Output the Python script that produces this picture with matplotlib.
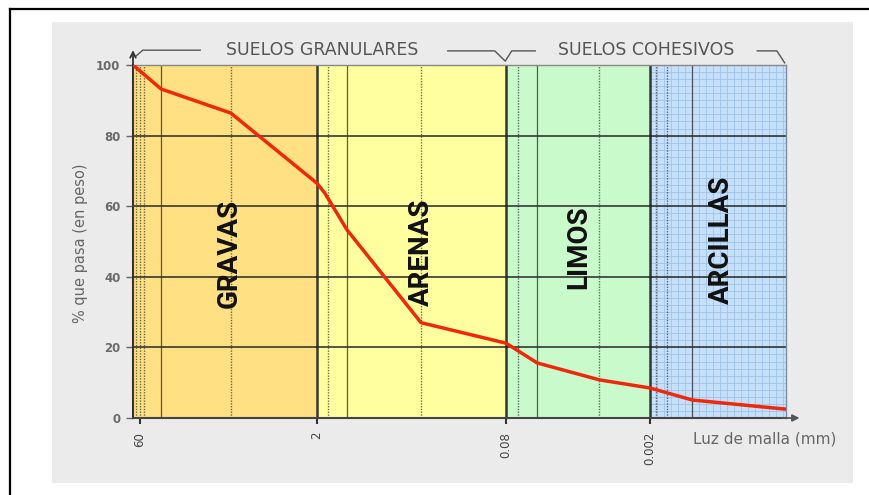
import numpy as np
import matplotlib
matplotlib.use("Agg")
import matplotlib.pyplot as plt
from matplotlib.patches import Rectangle
from matplotlib.lines import Line2D

# ------------------------------
# DATA
# ------------------------------
SIZES_MM = [68, 40, 10.5, 2, 1.75, 1.2, 0.34, 0.08, 0.036, 0.0073, 0.002, 0.00068, 0.000062]
PASSING = [100, 93.2, 86.4, 66.5, 63.7, 53.3, 27.0, 21.2, 15.6, 10.8, 8.5, 5.1, 2.5]

CLASS_LIMITS_MM = [68, 2, 0.08, 0.002, 0.000062]
CLASS_NAMES = ["GRAVAS", "ARENAS", "LIMOS", "ARCILLAS"]
CLASS_COLORS = ["#FFE082", "#FFFF9F", "#C9FACB", "#C6E0FA"]

TICKS_MM = [60, 2, 0.08, 0.002]
TICK_LABELS = ["60", "2", "0.08", "0.002"]
Y_TICKS = [0, 20, 40, 60, 80, 100]

SOLID_LINES_MM = [40, 1.2, 0.036, 0.00068]
DOTTED_LINES_MM = [64, 60, 56, 10.5, 1.65, 0.34, 0.059, 0.0073, 0.0017, 0.0013]

# ------------------------------
# LAYOUT
# ------------------------------
W, H = 869, 495
# the schematic x axis is log-like, but each class has its own stretch
ANCHOR_MM = np.array([68, 60, 2, 0.08, 0.002, 0.000062])
ANCHOR_POS = np.array([0, 7, 184, 373, 517, 653])
LABEL_POS = [(10.7, 46.7), (0.34, 47.0), (0.0124, 48.4), (0.00032, 50.4)]


def fwd(x):
    x = np.clip(np.asarray(x, dtype=float), 1e-12, None)
    return np.interp(-np.log10(x), -np.log10(ANCHOR_MM), ANCHOR_POS)


def inv(p):
    return 10 ** (-np.interp(np.asarray(p, dtype=float), ANCHOR_POS, -np.log10(ANCHOR_MM)))


def main():
    fig = plt.figure(figsize=(W / 100, H / 100), dpi=100)
    fig.patch.set_facecolor("white")

    # gray panel + outer frame
    fig.patches.append(Rectangle((52 / W, 12 / H), 801 / W, 461 / H, transform=fig.transFigure,
                                 facecolor="#ebebeb", edgecolor="none", zorder=-10))
    fig.add_artist(Line2D([10 / W, 1], [1 - 9 / H, 1 - 9 / H], transform=fig.transFigure, color="black", lw=1.6))
    fig.add_artist(Line2D([10 / W, 10 / W], [0, 1 - 9 / H], transform=fig.transFigure, color="black", lw=1.6))

    ax = fig.add_axes([133 / W, 1 - 418 / H, 653 / W, 353 / H])
    ax.set_xscale("function", functions=(fwd, inv))
    # coarse sizes on the left
    ax.set_xlim(CLASS_LIMITS_MM[-1], CLASS_LIMITS_MM[0])
    ax.set_ylim(0, 100)

    # class bands
    for i, col in enumerate(CLASS_COLORS):
        ax.axvspan(CLASS_LIMITS_MM[i], CLASS_LIMITS_MM[i + 1], color=col, zorder=0, lw=0)

    # fine grid in the clay band
    p0, p1 = fwd(CLASS_LIMITS_MM[3]), fwd(CLASS_LIMITS_MM[4])
    fine_x = inv(np.arange(p0 + 7, p1, 7))
    ax.vlines(fine_x, 0, 100, color="#9DC3EE", lw=0.6, zorder=1)
    ax.hlines(np.arange(2, 100, 2), CLASS_LIMITS_MM[3], CLASS_LIMITS_MM[4], color="#9DC3EE", lw=0.6, zorder=1)

    # main grid
    ax.hlines([20, 40, 60, 80], CLASS_LIMITS_MM[0], CLASS_LIMITS_MM[-1], color="#2a2a2a", lw=1.4, alpha=0.8, zorder=2)
    ax.vlines(DOTTED_LINES_MM, 0, 100, color="#333333", lw=1.0, linestyles=(0, (1, 1)), alpha=0.7, zorder=2)
    ax.vlines(SOLID_LINES_MM, 0, 100, color="#333333", lw=0.9, alpha=0.8, zorder=2)
    ax.vlines(CLASS_LIMITS_MM[1:4], 0, 100, color="#222222", lw=1.8, alpha=0.9, zorder=2)

    # grading curve
    ax.plot(SIZES_MM, PASSING, color="#F0280A", lw=2.5, zorder=5, solid_capstyle="round")

    # class names
    for name, (xm, yp) in zip(CLASS_NAMES, LABEL_POS):
        ax.text(xm, yp, name, rotation=90, ha="center", va="center", fontsize=20, fontweight="bold",
                family=["Liberation Sans Narrow", "Roboto", "DejaVu Sans"], color="#111111", zorder=6)

    # axes styling
    ax.set_xticks(TICKS_MM)
    ax.set_xticklabels(TICK_LABELS, rotation=90, fontsize=8.5, color="#444444")
    ax.xaxis.set_minor_locator(matplotlib.ticker.NullLocator())
    ax.set_yticks(Y_TICKS)
    ax.tick_params(axis="x", length=4, width=1.5, color="#333333", pad=6)
    ax.tick_params(axis="y", length=5, width=1, color="#666666", pad=4, labelsize=8.5, labelcolor="#6a6a6a")
    for lab in ax.get_yticklabels():
        lab.set_fontweight("bold")
    ax.spines["left"].set_color("#333333")
    ax.spines["left"].set_linewidth(1.5)
    ax.spines["bottom"].set_color("#444444")
    ax.spines["bottom"].set_linewidth(1.5)
    ax.spines["top"].set_color("#888888")
    ax.spines["top"].set_linewidth(1.0)
    ax.spines["right"].set_color("#7a8fa8")
    ax.spines["right"].set_linewidth(1.0)

    # axis arrows
    ax.annotate("", xy=(0, 1.05), xytext=(0, 0.99), xycoords="axes fraction",
                arrowprops=dict(arrowstyle="->", color="#333333", lw=1.3))
    ax.annotate("", xy=(1.025, 0), xytext=(0.99, 0), xycoords="axes fraction",
                arrowprops=dict(arrowstyle="-|>", color="#555555", lw=1.3, mutation_scale=10))

    # brackets for the two soil groups
    bk = dict(transform=ax.transAxes, color="#555555", lw=1.0, clip_on=False)
    ax.plot([0.005, 0.015, 0.103], [1.026, 1.042, 1.042], **bk)
    ax.plot([0.482, 0.554, 0.570, 0.580, 0.616], [1.040, 1.040, 1.011, 1.040, 1.040], **bk)
    ax.plot([0.956, 0.986, 0.998], [1.040, 1.040, 1.006], **bk)
    ax.text(0.289, 1.042, "SUELOS GRANULARES", transform=ax.transAxes, ha="center", va="center",
            fontsize=12.5, color="#555555")
    ax.text(0.786, 1.042, "SUELOS COHESIVOS", transform=ax.transAxes, ha="center", va="center",
            fontsize=12.5, color="#555555")

    fig.text(693 / W, 1 - 439 / H, "Luz de malla (mm)", ha="left", va="center", fontsize=11, color="#666666")
    fig.text(80 / W, 1 - 243 / H, "% que pasa (en peso)", rotation=90, ha="center", va="center",
             fontsize=10.5, color="#666666")

    fig.savefig("out.png", dpi=100)


if __name__ == "__main__":
    main()
